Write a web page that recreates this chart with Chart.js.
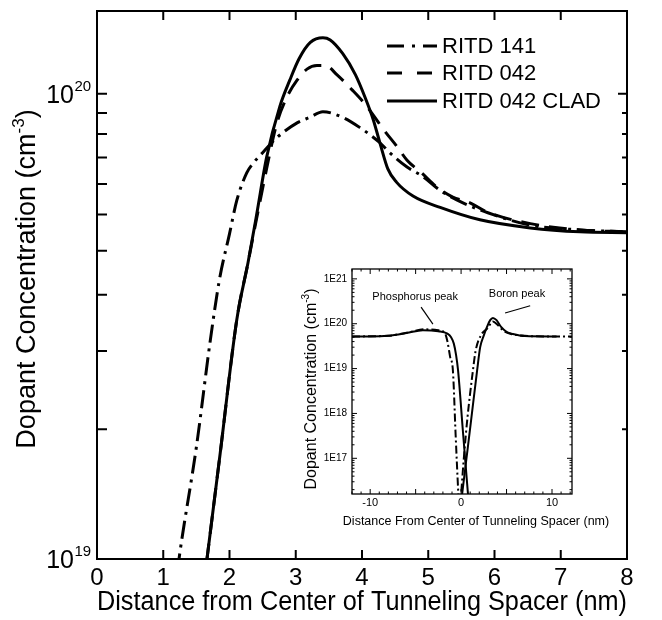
<!DOCTYPE html>
<html><head><meta charset="utf-8">
<script src="https://cdn.jsdelivr.net/npm/chart.js@4"></script>
<style>
html,body{margin:0;padding:0;background:#fff;}
#wrap{position:relative;width:662px;height:620px;overflow:hidden;}
#main{position:absolute;left:0;top:0;}
#inset{position:absolute;left:290px;top:258px;}
</style></head><body>
<div id="wrap">
<canvas id="main" width="662" height="620"></canvas>
<canvas id="inset" width="330" height="274"></canvas>
</div>
<script>
// ---------------- data (main plot, y in units of 1e19 cm^-3) ----------------
const UNIT = 1e19;
const seriesNames = ['RITD 141', 'RITD 042', 'RITD 042 CLAD'];
const x141 = [1.15,1.25,1.5,1.71,1.85,2.0,2.11,2.26,2.36,2.51,2.71,3.02,3.21,3.41,3.71,3.97,4.27,4.42,4.68,4.92,5.18,5.5,5.9,6.54,7.29,8.0];
const y141 = [0.8,1.03,1.74,2.95,4.0,5.0,5.9,6.76,7.1,7.5,8.04,8.66,8.9,9.15,8.9,8.46,7.85,7.47,6.96,6.64,6.2,5.85,5.55,5.22,5.1,5.05];
const x042 = [1.55,1.66,1.86,2.11,2.28,2.41,2.56,2.71,2.86,3.02,3.17,3.32,3.45,3.62,3.85,4.02,4.17,4.32,4.53,4.68,4.9,5.13,5.37,5.63,5.89,6.54,7.29,8.0];
const y042 = [0.75,1.0,1.69,3.27,4.34,5.4,6.9,8.6,9.8,10.7,11.3,11.5,11.5,11.0,10.2,9.6,9.0,8.4,7.7,7.2,6.76,6.3,6.0,5.83,5.57,5.26,5.1,5.05];
const xClad = [1.55,1.66,1.86,2.11,2.28,2.41,2.56,2.76,2.91,3.05,3.22,3.41,3.52,3.71,3.9,4.05,4.17,4.27,4.39,4.52,4.77,5.18,5.78,6.54,7.29,8.0];
const yClad = [0.75,1.0,1.69,3.27,4.34,5.5,7.3,9.4,10.7,11.9,12.9,13.2,13.06,12.2,11.0,9.8,8.8,7.85,6.9,6.46,6.03,5.7,5.36,5.15,5.05,5.03];
const xTickValues = [0,1,2,3,4,5,6,7,8];
const yMajorTicks = [1e19, 1e20];
const yMinorTicks = [1.9e19,2.8e19,3.7e19,4.6e19,5.5e19,6.4e19,7.3e19,8.2e19,9.1e19];

// ---------------- data (inset, cm^-3) ----------------
const xPsolid = [-12,-10,-8,-6,-4.2,-2.5,-1.5,-1.1,-0.8,-0.55,-0.33,0.2,0.9];
const yPsolid = [5.2e19,5.2e19,5.4e19,6.2e19,7.2e19,6.8e19,6.0e19,5.0e19,3.6e19,2.0e19,9e18,4e17,7e15];
const xBsolid = [-0.1,0.5,1.1,1.76,2.1,2.5,2.85,3.2,3.5,3.9,4.4,5.0,5.7,7,10.5];
const yBsolid = [7e15,7e16,7e17,9e18,3.0e19,5.5e19,8.5e19,1.2e20,1.35e20,1.2e20,8.5e19,6.6e19,5.9e19,5.3e19,5.2e19];
const xPdd = [-12,-8,-6,-4,-2.5,-1.8,-1.5,-1.2,-0.9,-0.6,-0.3,-0.15];
const yPdd = [5.2e19,5.4e19,6.3e19,7.5e19,7.2e19,6.3e19,4.0e19,1.8e19,9e18,3.3e17,1.6e16,5e15];
const xBdd = [-0.1,0.3,0.7,1.3,1.6,2.2,2.9,3.5,4.0,4.6,5.5,7,9,12.2];
const yBdd = [8e15,1e17,8e17,9e18,2.5e19,5.6e19,7.9e19,1.12e20,9.5e19,7.1e19,5.9e19,5.4e19,5.2e19,5.2e19];
const insetXTicks = [-10,0,10];
const insetYTicks = [1e17,1e18,1e19,1e20,1e21];
const annotations = [
  {text:'Phosphorus peak', x:-5.05, y:Math.pow(10,20.6), line:[[-4.4,Math.pow(10,20.37)],[-3.1,Math.pow(10,19.99)]]},
  {text:'Boron peak', x:6.15, y:Math.pow(10,20.66), line:[[4.84,Math.pow(10,20.24)],[7.6,Math.pow(10,20.40)]]}
];

const FONT = "'Liberation Sans', Arial, Helvetica, sans-serif";
const pts = (xs, ys, k=1) => xs.map((x,i)=>({x:x, y:ys[i]*k}));

// ---------------- main chart ----------------
const mainDash = [[18,6,3,6],[18,10],[]];
const legendDash = [[17,8,3,8],[15,15],[]];

const mainPlugin = {
  id:'mainDeco',
  afterDraw(chart){
    const {ctx, chartArea:a, scales:{x,y}} = chart;
    ctx.save();
    ctx.strokeStyle = '#000'; ctx.fillStyle = '#000';
    ctx.lineWidth = 2; ctx.setLineDash([]);
    ctx.strokeRect(a.left, a.top, a.right-a.left, a.bottom-a.top);
    ctx.beginPath();
    xTickValues.forEach(v=>{
      if (v<=x.min || v>=x.max) return;
      const px = x.getPixelForValue(v);
      ctx.moveTo(px,a.bottom); ctx.lineTo(px,a.bottom-9);
      ctx.moveTo(px,a.top); ctx.lineTo(px,a.top+9);
    });
    yMajorTicks.concat(yMinorTicks).forEach(v=>{
      const py = y.getPixelForValue(v);
      ctx.moveTo(a.left,py); ctx.lineTo(a.left+10,py);
      const L = yMajorTicks.includes(v) ? 9 : 5;
      ctx.moveTo(a.right,py); ctx.lineTo(a.right-L,py);
    });
    ctx.stroke();
    // y tick labels with superscripts
    yMajorTicks.forEach(v=>{
      const py = y.getPixelForValue(v);
      const e = Math.round(Math.log10(v));
      ctx.font = '25px '+FONT; ctx.textAlign='right'; ctx.textBaseline='alphabetic';
      ctx.fillText('10', 74, py+9);
      ctx.font = '15px '+FONT; ctx.textAlign='left';
      ctx.fillText(String(e), 74.5, py-3);
    });
    // y title
    ctx.save();
    ctx.translate(35, (a.top+a.bottom)/2 - 6);
    ctx.rotate(-Math.PI/2);
    ctx.textBaseline='alphabetic';
    const big = '27px '+FONT, small='17px '+FONT;
    ctx.font = big; const w1 = ctx.measureText('Dopant Concentration (cm').width;
    ctx.font = small; const w2 = ctx.measureText('-3').width;
    ctx.font = big; const w3 = ctx.measureText(')').width;
    let sx = -(w1+w2+w3)/2;
    ctx.textAlign='left';
    ctx.font = big; ctx.fillText('Dopant Concentration (cm', sx, 0);
    ctx.font = small; ctx.fillText('-3', sx+w1, -11);
    ctx.font = big; ctx.fillText(')', sx+w1+w2, 0);
    ctx.restore();
    // legend
    const rows = [46,73,101];
    chart.data.datasets.forEach((ds,i)=>{
      ctx.setLineDash(legendDash[i]); ctx.lineWidth=3; ctx.lineCap='butt';
      ctx.beginPath(); ctx.moveTo(387,rows[i]); ctx.lineTo(437,rows[i]); ctx.stroke();
      ctx.setLineDash([]);
      ctx.font='22px '+FONT; ctx.textAlign='left'; ctx.textBaseline='middle';
      ctx.fillText(ds.label, 442, rows[i]+1);
    });
    ctx.restore();
  }
};

const mainData = [[x141,y141],[x042,y042],[xClad,yClad]];
new Chart(document.getElementById('main'), {
  type:'line',
  data:{datasets: seriesNames.map((n,i)=>({
    label:n, data:pts(mainData[i][0], mainData[i][1], UNIT),
    borderColor:'#000', borderWidth:3, borderDash:mainDash[i],
    pointRadius:0, cubicInterpolationMode:'monotone', fill:false
  }))},
  options:{
    responsive:false, animation:false, events:[],
    layout:{padding:{top:11,right:35,left:0,bottom:0}},
    plugins:{legend:{display:false}, tooltip:{enabled:false}},
    scales:{
      x:{type:'linear', min:0, max:8,
        grid:{display:false, drawTicks:false}, border:{display:false},
        afterBuildTicks(s){ s.ticks = xTickValues.map(v=>({value:v})); },
        ticks:{font:{family:FONT,size:24}, color:'#000', padding:5, autoSkip:false, maxRotation:0},
        title:{display:true, text:'Distance from Center of Tunneling Spacer (nm)', font:{family:FONT,size:27}, color:'#000', padding:{top:0,bottom:1}},
        afterFit(s){ s.height = 61; }
      },
      y:{type:'logarithmic', min:1e19, max:1.507e20,
        grid:{display:false, drawTicks:false}, border:{display:false},
        ticks:{display:false},
        afterFit(s){ s.width = 97; }
      }
    }
  },
  plugins:[mainPlugin]
});

// ---------------- inset chart ----------------
const insetPlugin = {
  id:'insetDeco',
  afterDraw(chart){
    const {ctx, chartArea:a, scales:{x,y}} = chart;
    ctx.save();
    ctx.strokeStyle='#000'; ctx.fillStyle='#000'; ctx.setLineDash([]);
    ctx.lineWidth=1.3;
    ctx.strokeRect(a.left, a.top, a.right-a.left, a.bottom-a.top);
    ctx.lineWidth=1;
    ctx.beginPath();
    for (let v=Math.ceil(x.min); v<=x.max; v++){
      const px = x.getPixelForValue(v);
      const L = (v%5===0) ? 5 : 2.5;
      ctx.moveTo(px,a.bottom); ctx.lineTo(px,a.bottom-L);
      ctx.moveTo(px,a.top); ctx.lineTo(px,a.top+L);
    }
    for (let d=16; d<=21; d++){
      for (let m=1; m<=9; m++){
        const v = m*Math.pow(10,d);
        if (v<y.min || v>y.max) continue;
        const py = y.getPixelForValue(v);
        const L = (m===1) ? 5 : 2.5;
        ctx.moveTo(a.left,py); ctx.lineTo(a.left+L,py);
        ctx.moveTo(a.right,py); ctx.lineTo(a.right-L,py);
      }
    }
    ctx.stroke();
    // annotations
    ctx.font='11px '+FONT; ctx.textAlign='center'; ctx.textBaseline='middle';
    annotations.forEach(an=>{
      ctx.fillText(an.text, x.getPixelForValue(an.x), y.getPixelForValue(an.y));
      ctx.beginPath();
      ctx.moveTo(x.getPixelForValue(an.line[0][0]), y.getPixelForValue(an.line[0][1]));
      ctx.lineTo(x.getPixelForValue(an.line[1][0]), y.getPixelForValue(an.line[1][1]));
      ctx.lineWidth=1.2; ctx.stroke();
    });
    // x title
    ctx.font='12.5px '+FONT; ctx.textAlign='center'; ctx.textBaseline='middle';
    ctx.fillText('Distance From Center of Tunneling Spacer (nm)', (a.left+a.right)/2+14, 264);
    // y title
    ctx.save();
    ctx.translate(26, 131);
    ctx.rotate(-Math.PI/2);
    ctx.textBaseline='alphabetic'; ctx.textAlign='left';
    const big='16px '+FONT, small='10px '+FONT;
    ctx.font=big; const w1=ctx.measureText('Dopant Concentration (cm').width;
    ctx.font=small; const w2=ctx.measureText('-3').width;
    ctx.font=big; const w3=ctx.measureText(')').width;
    const sx=-(w1+w2+w3)/2;
    ctx.font=big; ctx.fillText('Dopant Concentration (cm', sx, 0);
    ctx.font=small; ctx.fillText('-3', sx+w1, -7);
    ctx.font=big; ctx.fillText(')', sx+w1+w2, 0);
    ctx.restore();
    ctx.restore();
  }
};

const insetSets = [
  [xPsolid,yPsolid,[]],[xBsolid,yBsolid,[]],
  [xPdd,yPdd,[8,3,2,3]],[xBdd,yBdd,[8,3,2,3]]
];
new Chart(document.getElementById('inset'), {
  type:'line',
  data:{datasets: insetSets.map(s=>({
    data:pts(s[0],s[1]), borderColor:'#000', borderWidth:2, borderDash:s[2],
    pointRadius:0, cubicInterpolationMode:'monotone', fill:false
  }))},
  options:{
    responsive:false, animation:false, events:[],
    layout:{padding:{top:11,right:48,left:0,bottom:0}},
    plugins:{legend:{display:false}, tooltip:{enabled:false}},
    scales:{
      x:{type:'linear', min:-12, max:12.2,
        grid:{display:false, drawTicks:false}, border:{display:false},
        afterBuildTicks(s){ s.ticks = insetXTicks.map(v=>({value:v})); },
        ticks:{font:{family:FONT,size:11}, color:'#000', padding:2, autoSkip:false, maxRotation:0},
        afterFit(s){ s.height = 38; }
      },
      y:{type:'logarithmic', min:1.6e16, max:1.66e21,
        grid:{display:false, drawTicks:false}, border:{display:false},
        afterBuildTicks(s){ s.ticks = insetYTicks.map(v=>({value:v})); },
        ticks:{font:{family:FONT,size:10}, color:'#000', padding:5, autoSkip:false,
          callback:(v)=>'1E'+Math.round(Math.log10(v))},
        afterFit(s){ s.width = 62; }
      }
    }
  },
  plugins:[insetPlugin]
});
</script>
</body></html>
